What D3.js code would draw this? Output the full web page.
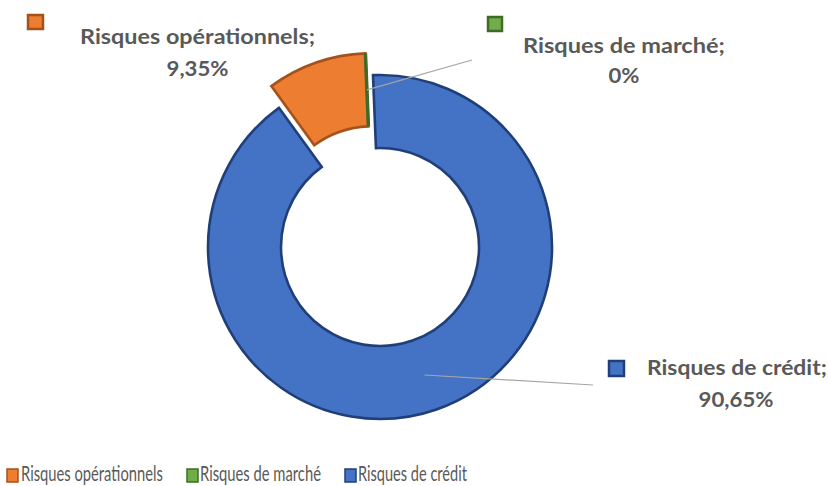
<!DOCTYPE html>
<html>
<head>
<meta charset="utf-8">
<script src="https://cdn.jsdelivr.net/npm/d3@7"></script>
<style>
  html, body { margin: 0; padding: 0; background: #fff; }
  svg { display: block; }
</style>
</head>
<body>
<svg id="chart" width="828" height="486"></svg>
<script>
// ---- data ----
const categories = ["Risques opérationnels", "Risques de marché", "Risques de crédit"];
const values = [9.35, 0, 90.65];
const valueLabels = ["9,35%", "0%", "90,65%"];

// ---- styling / layout ----
const fills = ["#ED7D31", "#70AD47", "#4472C4"];
const strokes = ["#A4521C", "#3E6B27", "#203F78"];
const cx = 380, cy = 247, R = 172, r0 = 99;
const startDeg = 324;
const explode = [23, 23, 0];

const svg = d3.select("#chart");
const color = d3.scaleOrdinal().domain(categories).range(fills);
const strokeC = d3.scaleOrdinal().domain(categories).range(strokes);

const rad = d => d * Math.PI / 180;
const pie = d3.pie().sort(null).value(d => d.v)
  .startAngle(rad(startDeg)).endAngle(rad(startDeg) + 2 * Math.PI);
const data = categories.map((c, i) => ({ c, v: values[i], lbl: valueLabels[i], i }));
const arcs = pie(data);
const arc = d3.arc().innerRadius(r0).outerRadius(R);

function offset(a) {
  const ref = a.index === 1 ? arcs[0] : a;
  const mid = (ref.startAngle + ref.endAngle) / 2;
  const d = explode[a.index];
  return [d * Math.sin(mid), -d * Math.cos(mid)];
}

const g = svg.append("g").attr("transform", `translate(${cx},${cy})`);

const order = [2, 0, 1];
order.forEach(k => {
  const a = arcs[k];
  const [ox, oy] = offset(a);
  g.append("path")
    .attr("d", arc(a))
    .attr("transform", `translate(${ox},${oy})`)
    .attr("fill", color(a.data.c))
    .attr("stroke", strokeC(a.data.c))
    .attr("stroke-width", k === 1 ? 3.5 : 2.6)
    .attr("stroke-linejoin", "miter");
});

// fit a text horizontally to a target width by scaling x
function fitText(parent, str, x, y, w, anchor, size, weight) {
  const gg = parent.append("g");
  const t = gg.append("text")
    .attr("x", 0).attr("y", 0)
    .attr("text-anchor", anchor)
    .attr("font-family", "Lato, 'Open Sans', sans-serif")
    .attr("font-weight", weight).attr("font-size", size)
    .attr("fill", "#595959")
    .text(str);
  const nat = t.node().getComputedTextLength() || w;
  gg.attr("transform", `translate(${x},${y}) scale(${w / nat},1)`);
  return gg;
}

// ---- data labels ----
const labelLayout = [
  { key: [28, 15, 15, 14], l1: { x: 197.5, y: 44, w: 235, anchor: "middle" }, l2: { x: 197.5, y: 76, w: 62 }, leader: null },
  { key: [488, 17, 14, 14], l1: { x: 624, y: 53, w: 202, anchor: "middle" }, l2: { x: 624, y: 83, w: 31 }, leader: [472, 60] },
  { key: [609, 361, 15, 15], l1: { x: 647, y: 375, w: 180, anchor: "start" }, l2: { x: 736, y: 407, w: 75 }, leader: [593, 385] }
];

const lab = svg.append("g");
arcs.forEach((a, i) => {
  const L = labelLayout[i];
  if (L.leader) {
    const [ox, oy] = offset(a);
    const c = arc.centroid(a);
    lab.append("line")
      .attr("x1", cx + c[0] + ox).attr("y1", cy + c[1] + oy)
      .attr("x2", L.leader[0]).attr("y2", L.leader[1])
      .attr("stroke", "#A6A6A6").attr("stroke-width", 1.2);
  }
  lab.append("rect")
    .attr("x", L.key[0]).attr("y", L.key[1]).attr("width", L.key[2]).attr("height", L.key[3])
    .attr("fill", color(a.data.c)).attr("stroke", strokeC(a.data.c)).attr("stroke-width", 2.5);
  fitText(lab, a.data.c + ";", L.l1.x, L.l1.y, L.l1.w, L.l1.anchor, 21, "bold");
  fitText(lab, a.data.lbl, L.l2.x, L.l2.y, L.l2.w, "middle", 21, "bold");
});

// ---- legend ----
const legendLayout = [
  { sx: 7, tx: 21, w: 142 },
  { sx: 187, tx: 200, w: 121 },
  { sx: 345, tx: 358, w: 109 }
];
const leg = svg.append("g");
categories.forEach((c, i) => {
  const L = legendLayout[i];
  leg.append("rect")
    .attr("x", L.sx).attr("y", 469).attr("width", 11).attr("height", 13)
    .attr("fill", color(c)).attr("stroke", strokeC(c)).attr("stroke-width", 1.5);
  fitText(leg, c, L.tx, 481, L.w, "start", 21, "normal");
});
</script>
</body>
</html>
